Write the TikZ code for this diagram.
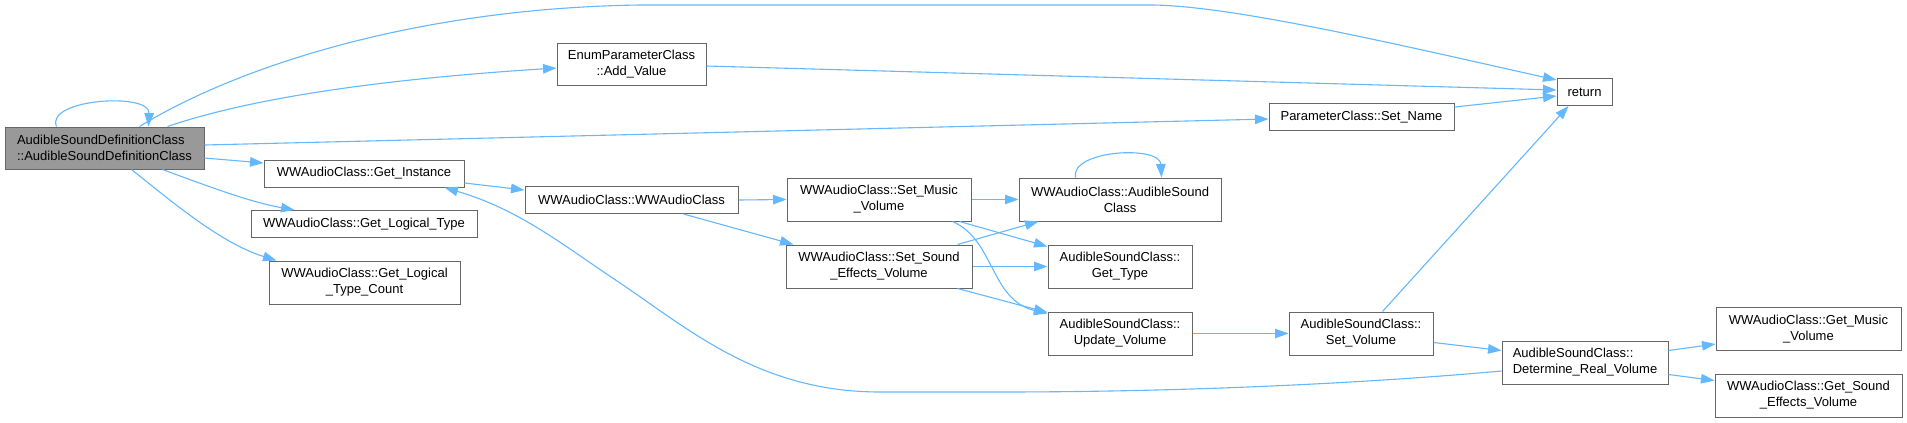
\documentclass[tikz,border=0pt]{standalone}
\usepackage{fontspec}
\setmainfont{Liberation Sans}
\usetikzlibrary{arrows.meta,calc}
\definecolor{edgec}{HTML}{63B8FF}
\definecolor{nodeb}{HTML}{666666}
\definecolor{mainf}{HTML}{999999}
\begin{document}
\begin{tikzpicture}[x=1pt,y=-1pt,
  box/.style={draw=nodeb, fill=white, line width=1pt, inner sep=0pt, font=\fontsize{13}{16}\selectfont, align=center, text=black},
  edge/.style={draw=edgec, line width=1.1pt, -{Triangle[length=13.5pt,width=9.5pt]}},
]
\fill[white] (0,0) rectangle (1907,423);
\useasboundingbox (0,0) rectangle (1907,423);

% nodes
\node[box, fill=mainf, align=left, minimum width=199pt, minimum height=42pt] (main) at (104.5,148) {AudibleSoundDefinitionClass\\::AudibleSoundDefinitionClass};
\node[box, minimum width=200pt, minimum height=27pt] (getinst) at (364,173.5) {WWAudioClass::Get\_Instance};
\node[box, minimum width=226pt, minimum height=27pt] (getlt) at (364,224) {WWAudioClass::Get\_Logical\_Type};
\node[box, minimum width=191pt, minimum height=43pt] (getltc) at (364.5,282.5) {WWAudioClass::Get\_Logical\\\_Type\_Count};
\node[box, minimum width=149pt, minimum height=42pt] (addval) at (631.5,64) {EnumParameterClass\\::Add\_Value};
\node[box, minimum width=213pt, minimum height=27pt] (wwac) at (631.5,200) {WWAudioClass::WWAudioClass};
\node[box, minimum width=184pt, minimum height=43pt] (setmusic) at (879,199.5) {WWAudioClass::Set\_Music\\\_Volume};
\node[box, minimum width=186pt, minimum height=43pt] (setsfx) at (879,266.5) {WWAudioClass::Set\_Sound\\\_Effects\_Volume};
\node[box, minimum width=202pt, minimum height=43pt] (asc) at (1120,199.5) {WWAudioClass::AudibleSound\\Class};
\node[box, minimum width=144pt, minimum height=43pt] (gettype) at (1120,266.5) {AudibleSoundClass::\\Get\_Type};
\node[box, minimum width=144pt, minimum height=43pt] (updvol) at (1120,333.5) {AudibleSoundClass::\\Update\_Volume};
\node[box, minimum width=185pt, minimum height=27pt] (setname) at (1361.5,117) {ParameterClass::Set\_Name};
\node[box, minimum width=55pt, minimum height=27pt] (ret) at (1584.5,92) {return};
\node[box, minimum width=144pt, minimum height=43pt] (setvol) at (1361,333.5) {AudibleSoundClass::\\Set\_Volume};
\node[box, align=left, minimum width=166pt, minimum height=43pt] (detreal) at (1585,362.5) {AudibleSoundClass::\\Determine\_Real\_Volume};
\node[box, minimum width=185pt, minimum height=43pt] (getmusic) at (1808.5,329) {WWAudioClass::Get\_Music\\\_Volume};
\node[box, minimum width=187pt, minimum height=43pt] (getsfx) at (1808.5,395.5) {WWAudioClass::Get\_Sound\\\_Effects\_Volume};

% edges
\draw[edge] ($(main.north west)+(52,0)$) .. controls (45,99) and (150,92) .. ($(main.north west)+(144,0)$);
\draw[edge] ($(main.north west)+(135,0)$) .. controls (240,65) and (420,8) .. (640,5) -- (1150,5) .. controls (1230,5) and (1400,45) .. ($(ret.north west)+(0,2)$);
\draw[edge] ($(main.north west)+(163,0)$) .. controls (260,95) and (400,78) .. ($(addval.west)+(0,4)$);
\draw[edge] ($(addval.east)+(0,2)$) -- ($(ret.west)+(0,-2)$);
\draw[edge] ($(main.east)+(0,-3)$) -- ($(setname.west)+(0,2)$);
\draw[edge] ($(setname.east)+(0,-10)$) -- ($(ret.west)+(0,4)$);
\draw[edge] ($(main.east)+(0,10)$) -- ($(getinst.west)+(0,-10.5)$);
\draw[edge] ($(main.south west)+(158,0)$) .. controls (210,187) and (250,202) .. ($(getlt.north west)+(44,0)$);
\draw[edge] ($(main.south west)+(127,0)$) .. controls (170,200) and (220,243) .. ($(getltc.north west)+(8,0)$);
\draw[edge] ($(getinst.east)+(0,9.5)$) -- ($(wwac.west)+(0,-10)$);
\draw[edge] ($(detreal.west)+(0,8.5)$) .. controls (1380,382) and (1200,392) .. (1000,392) -- (880,392) .. controls (760,392) and (690,330) .. (620,283) .. controls (560,243) and (520,210) .. ($(getinst.south west)+(181,0)$);
\draw[edge] (wwac.east) -- (setmusic.west);
\draw[edge] ($(wwac.south west)+(159,0)$) -- ($(setsfx.north west)+(8,0)$);
\draw[edge] (setmusic.east) -- (asc.west);
\draw[edge] ($(setmusic.south east)+(-12,0)$) -- ($(gettype.north west)+(0,2)$);
\draw[edge] ($(setmusic.south east)+(-19,0)$) .. controls (995,240) and (990,300) .. ($(updvol.north west)+(0,2)$);
\draw[edge] ($(setsfx.north east)+(-15,0)$) -- ($(asc.south west)+(20,0)$);
\draw[edge] (setsfx.east) -- (gettype.west);
\draw[edge] ($(setsfx.south east)+(-15,0)$) -- ($(updvol.north west)+(0,1)$);
\draw[edge] ($(asc.north west)+(57,0)$) .. controls (1070,150) and (1160,145) .. ($(asc.north west)+(143,0)$);
\draw[edge] (updvol.east) -- (setvol.west);
\draw[edge] ($(setvol.north west)+(94,0)$) -- ($(ret.south west)+(12,0)$);
\draw[edge] ($(setvol.east)+(0,9)$) -- ($(detreal.west)+(0,-12)$);
\draw[edge] ($(detreal.east)+(0,-12)$) -- ($(getmusic.west)+(0,15)$);
\draw[edge] ($(detreal.east)+(0,12)$) -- ($(getsfx.west)+(0,-15)$);
\end{tikzpicture}
\end{document}
